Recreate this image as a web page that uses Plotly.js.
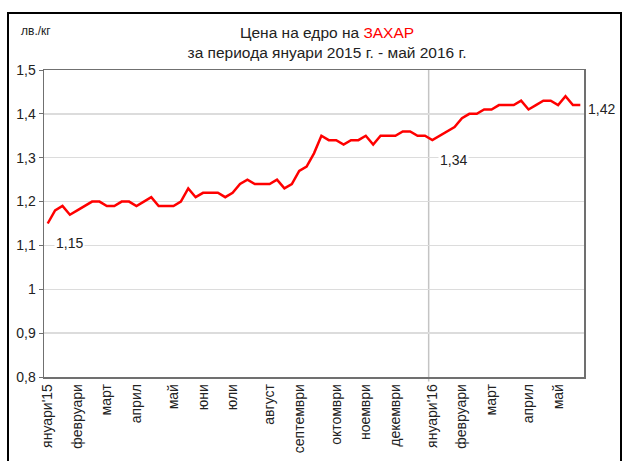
<!DOCTYPE html>
<html><head><meta charset="utf-8">
<script src="https://cdn.plot.ly/plotly-3.0.1.min.js"></script>
<style>
html,body{margin:0;padding:0;background:#fff;}
#wrap{position:relative;width:623px;height:461px;overflow:hidden;}
#chart{width:623px;height:461px;}
#frame{position:absolute;left:7px;top:12px;width:611px;height:460px;border:2px solid #000;border-bottom:none;pointer-events:none;}
</style>
</head><body>
<div id="wrap"><div id="chart"></div><div id="frame"></div></div>
<script>
// Weekly wholesale sugar price, BGN/kg, January 2015 - May 2016
const prices = [
  1.15, 1.18, 1.19, 1.17, 1.18, 1.19, 1.20, 1.20, 1.19, 1.19,
  1.20, 1.20, 1.19, 1.20, 1.21, 1.19, 1.19, 1.19, 1.20, 1.23,
  1.21, 1.22, 1.22, 1.22, 1.21, 1.22, 1.24, 1.25, 1.24, 1.24,
  1.24, 1.25, 1.23, 1.24, 1.27, 1.28, 1.31, 1.35, 1.34, 1.34,
  1.33, 1.34, 1.34, 1.35, 1.33, 1.35, 1.35, 1.35, 1.36, 1.36,
  1.35, 1.35, 1.34, 1.35, 1.36, 1.37, 1.39, 1.40, 1.40, 1.41,
  1.41, 1.42, 1.42, 1.42, 1.43, 1.41, 1.42, 1.43, 1.43, 1.42,
  1.44, 1.42, 1.42
];
// Month labels and the week at which each month starts
const monthLabels = ["януари'15","февруари","март","април","май","юни","юли","август","септември","октомври","ноември","декември","януари'16","февруари","март","април","май"];
const monthStartWeek = [0, 4, 8, 12, 17, 21, 25, 30, 34, 39, 43, 47, 52, 56, 60, 65, 69];
// Weeks whose values are labelled
const labelledWeeks = [0, 52, 72];
const yTicks = [0.8, 0.9, 1.0, 1.1, 1.2, 1.3, 1.4, 1.5];

const weeks = prices.map((_, i) => i);
const FONT = "Liberation Sans, Arial, sans-serif";
const fmt = v => v.toFixed(2).replace('.', ',');

const labelShift = {0: [22, -19], 52: [21, -20], 72: [21, -4]};
const annotations = labelledWeeks.map(w => ({
  x: w, y: prices[w], xref: 'x', yref: 'y', text: fmt(prices[w]),
  showarrow: false, xshift: labelShift[w][0], yshift: labelShift[w][1],
  bgcolor: '#ffffff', borderpad: 1,
  font: {family: FONT, size: 14, color: '#222'}
}));
annotations.push({
  xref: 'paper', yref: 'paper', x: -0.046, y: 1.127, xanchor: 'left', yanchor: 'middle',
  text: 'лв./кг', showarrow: false, font: {family: FONT, size: 12, color: '#222'}
});

const jan16 = monthStartWeek[monthLabels.indexOf("януари'16")];

const trace = {
  x: weeks, y: prices, type: 'scatter', mode: 'lines',
  line: {color: '#ff0000', width: 2.5}, hoverinfo: 'skip'
};

const layout = {
  width: 623, height: 461,
  margin: {l: 44, r: 39, t: 70, b: 84},
  paper_bgcolor: '#fff', plot_bgcolor: '#fff',
  separators: ', ',
  showlegend: false,
  title: {
    text: "Цена на едро на <span style='color:#ff0000'>ЗАХАР</span><br>за периода януари 2015 г. - май 2016 г.",
    font: {family: FONT, size: 15.5, color: '#222'},
    x: 0.525, xref: 'container', xanchor: 'center',
    y: 0.918, yref: 'container', yanchor: 'top'
  },
  xaxis: {
    range: [-0.5, prices.length - 0.5],
    tickmode: 'array', tickvals: monthStartWeek, ticktext: monthLabels,
    tickangle: -90, ticks: '', showgrid: false, zeroline: false,
    showline: true, linecolor: '#707070', linewidth: 1.5, mirror: true,
    tickfont: {family: FONT, size: 14, color: '#222'}
  },
  yaxis: {
    range: [0.8, 1.5], tickmode: 'array', tickvals: yTicks,
    ticks: 'outside', ticklen: 4, tickcolor: '#707070',
    showgrid: true, gridcolor: '#dcdcdc', gridwidth: 1.5, zeroline: false,
    showline: true, linecolor: '#707070', linewidth: 1.5, mirror: true,
    tickfont: {family: FONT, size: 14, color: '#222'}
  },
  shapes: [{
    type: 'line', xref: 'x', yref: 'paper', x0: jan16 - 0.5, x1: jan16 - 0.5, y0: -0.015, y1: 1,
    line: {color: '#c4c4c4', width: 1.5}, layer: 'below'
  }],
  annotations: annotations
};

Plotly.newPlot('chart', [trace], layout, {staticPlot: true, displayModeBar: false});
</script>
</body></html>
